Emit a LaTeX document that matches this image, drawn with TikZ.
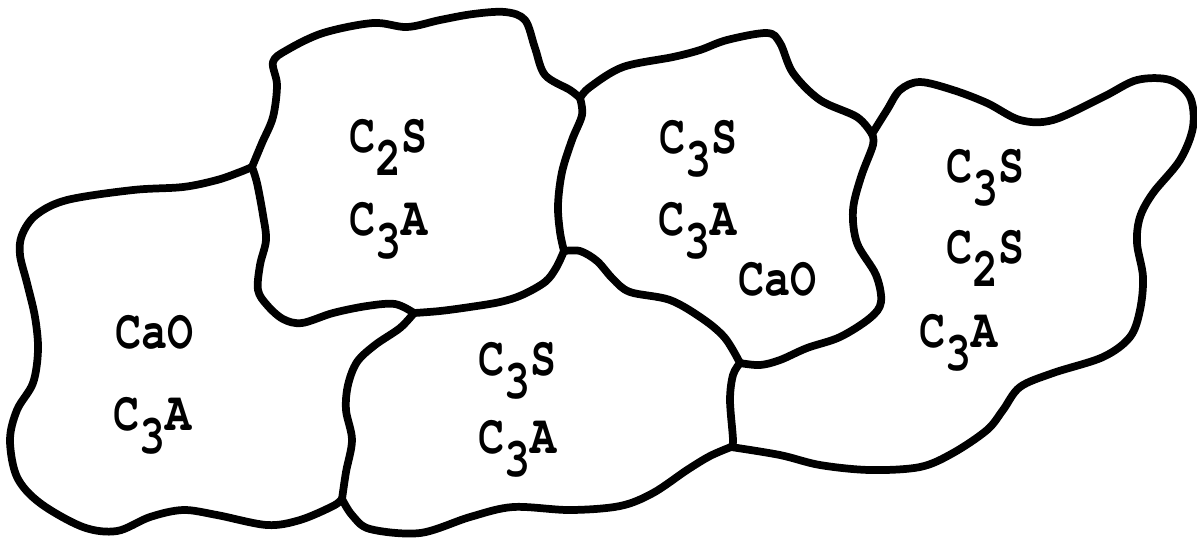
\documentclass[tikz,border=0pt]{standalone}
\usepackage{fontspec}
\newfontfamily\chemfont[FakeStretch=0.78]{TeX Gyre Cursor}
\newcommand\subdig[1]{\raisebox{-6.8pt}{#1}}
\begin{document}
\begin{tikzpicture}[x=0.01cm,y=-0.01cm,
  grainline/.style={line width=2.2pt,line join=round,line cap=round},
  lab/.style={anchor=base west,inner sep=0pt,font=\chemfont\bfseries\fontsize{15.8}{18}\selectfont}]
\useasboundingbox (0,0) rectangle (1197,544);
\coordinate (J1) at (252,167);
\coordinate (J2) at (414,313);
\coordinate (J3) at (342,499);
\coordinate (J4) at (564,251);
\coordinate (J5) at (580,98);
\coordinate (J6) at (740,363);
\coordinate (J7) at (731,447);
\coordinate (J8) at (872,134);
\begin{scope}[grainline]
% grain 1 outer
\draw plot[smooth,tension=0.55] coordinates {(J1) (240,172) (217,180) (183,187) (133,190) (67,200) (36,215) (22,235) (20,255) (27,283) (35,317) (38,350) (33,383) (17,410) (10,440) (17,477) (40,503) (83,527) (117,531) (150,517) (183,510) (217,515) (267,525) (300,520) (333,506) (J3)};
% grain 2 left and bottom-left
\draw plot[smooth,tension=0.55] coordinates {(J1) (257,183) (263,215) (266,240) (260,265) (258,290) (267,305) (283,319) (302,323) (333,313) (367,306) (395,304) (J2)};
% grain 2 bottom right
\draw plot[smooth,tension=0.55] coordinates {(J2) (440,311) (470,307) (500,302) (522,295) (545,282) (556,268) (J4)};
% grain 5 left
\draw plot[smooth,tension=0.55] coordinates {(J2) (400,328) (375,345) (357,362) (348,385) (346,410) (352,440) (346,472) (J3)};
% grain 5 bottom
\draw plot[smooth,tension=0.55] coordinates {(J3) (352,515) (370,529) (420,533) (470,517) (513,507) (570,510) (620,506) (653,493) (687,470) (710,456) (J7)};
% grain 5 right
\draw plot[smooth,tension=0.55] coordinates {(J7) (733,440) (730,400) (733,375) (J6)};
% grain 5 top
\draw plot[smooth,tension=0.55] coordinates {(J6) (725,338) (703,319) (670,300) (630,292) (613,279) (597,261) (580,251) (J4)};
% grain 2 right / grain 3 left
\draw plot[smooth,tension=0.55] coordinates {(J4) (560,232) (558,205) (562,172) (572,140) (582,115) (J5)};
% grain 2 top
\draw plot[smooth,tension=0.55] coordinates {(J5) (570,90) (545,75) (535,48) (525,20) (505,12) (473,14) (440,20) (407,27) (373,23) (323,33) (287,50) (273,62) (277,85) (273,117) (262,143) (J1)};
% grain 3 top
\draw plot[smooth,tension=0.55] coordinates {(J5) (590,87) (623,67) (673,57) (700,50) (727,40) (767,33) (780,43) (793,73) (820,100) (857,117) (J8)};
% grain 3 / grain 4 shared
\draw plot[smooth,tension=0.55] coordinates {(J8) (873,145) (861,177) (853,210) (857,243) (876,275) (881,302) (870,318) (840,337) (807,348) (780,360) (760,365) (J6)};
% grain 4 outer
\draw plot[smooth,tension=0.55] coordinates {(J8) (887,110) (900,90) (920,82) (953,90) (987,103) (1020,120) (1053,120) (1103,97) (1137,80) (1170,80) (1190,97) (1193,127) (1180,160) (1153,193) (1140,217) (1137,243) (1143,277) (1140,310) (1130,337) (1103,357) (1053,373) (1020,387) (1003,410) (987,430) (953,453) (920,467) (870,470) (820,465) (780,455) (J7)};
\end{scope}
% labels
\node[lab] (g1a) at (115,348) {CaO};
\node[lab] (g1b) at (113,430) {C\subdig{3}A};
\node[lab] (g2a) at (349,152) {C\subdig{2}S};
\node[lab] (g2b) at (349,235) {C\subdig{3}A};
\node[lab] (g3a) at (659,153) {C\subdig{3}S};
\node[lab] (g3b) at (658,235) {C\subdig{3}A};
\node[lab] (g3c) at (738,295) {CaO};
\node[lab] (g4a) at (946,182) {C\subdig{3}S};
\node[lab] (g4b) at (946,263) {C\subdig{2}S};
\node[lab] (g4c) at (919,347) {C\subdig{3}A};
\node[lab] (g5a) at (478,375) {C\subdig{3}S};
\node[lab] (g5b) at (478,453) {C\subdig{3}A};
\end{tikzpicture}
\end{document}
